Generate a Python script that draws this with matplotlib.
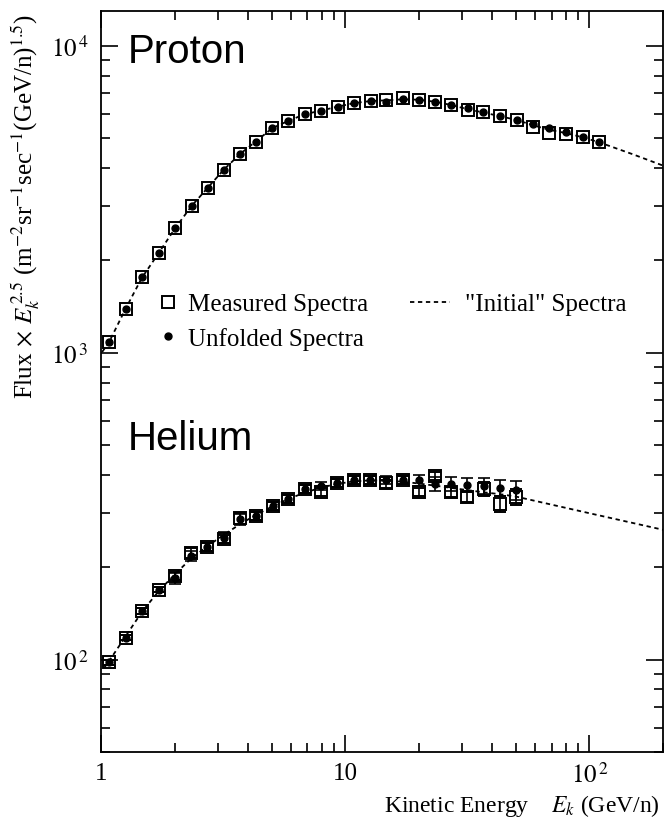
import matplotlib
matplotlib.use("Agg")
import matplotlib.pyplot as plt
from matplotlib.lines import Line2D
from matplotlib.ticker import FixedLocator, FixedFormatter, LogLocator, NullFormatter

plt.rcParams['font.family'] = ['Liberation Serif', 'DejaVu Serif']
plt.rcParams['mathtext.fontset'] = 'stix'

# proton
e_p = [1.08, 1.26, 1.47, 1.72, 2.01, 2.35, 2.73, 3.18, 3.72, 4.30, 5.03, 5.85, 6.82, 7.99, 9.34,
       10.9, 12.7, 14.7, 17.2, 20.0, 23.3, 27.2, 31.7, 36.8, 43.1, 50.3, 58.5, 68.5, 80.1, 93.7, 109]
p_unfolded = [1088, 1391, 1760, 2112, 2548, 3012, 3448, 3955, 4460, 4880, 5408, 5699, 5992, 6155, 6343,
              6520, 6600, 6557, 6735, 6685, 6585, 6424, 6266, 6082, 5902, 5754, 5568, 5395, 5258, 5042, 4857]
p_measured = [1088, 1391, 1760, 2112, 2548, 3012, 3448, 3955, 4460, 4880, 5408, 5699, 5992, 6155, 6343,
              6520, 6640, 6683, 6780, 6690, 6560, 6424, 6173, 6082, 5902, 5754, 5436, 5208, 5170, 5042, 4857]
e_p_init = [1.01, 1.08, 1.26, 1.47, 1.72, 2.01, 2.35, 2.73, 3.18, 3.72, 4.30, 5.03, 5.85, 6.82, 7.99, 9.34,
            10.9, 12.7, 14.7, 17.2, 20.0, 23.3, 27.2, 31.7, 36.8, 43.1, 50.3, 58.5, 68.5, 80.1, 93.7, 109, 150, 200]
p_init = [1005, 1085, 1390, 1755, 2110, 2545, 3010, 3445, 3950, 4455, 4880, 5400, 5700, 5990, 6160, 6345,
          6515, 6615, 6650, 6700, 6680, 6580, 6420, 6220, 6070, 5900, 5740, 5520, 5330, 5200, 5040, 4860, 4440, 4075]

# helium
e_he = [1.08, 1.26, 1.47, 1.72, 2.01, 2.33, 2.72, 3.18, 3.70, 4.30, 5.04, 5.85, 6.82, 7.99, 9.27,
        10.86, 12.6, 14.7, 17.2, 20.0, 23.3, 27.1, 31.5, 36.9, 43.1, 50.0]
he_measured = [98, 118, 144, 169, 187, 223, 233, 247, 289, 293, 317, 333, 359, 353, 377,
               384, 384, 375, 384, 353, 397, 352, 339, 360, 322, 339]
he_unfolded = [98, 118, 144, 169, 184, 218, 233, 250, 287, 293, 317, 333, 359, 368, 377,
               384, 384, 384, 384, 384, 374, 374, 371, 368, 363, 356]
he_meas_err = [0.02, 0.02, 0.02, 0.02, 0.03, 0.04, 0.03, 0.03, 0.04, 0.03, 0.03, 0.03, 0.03, 0.03, 0.03,
               0.03, 0.03, 0.03, 0.03, 0.03, 0.03, 0.04, 0.04, 0.05, 0.06, 0.06]
he_unf_err = [0.02, 0.02, 0.02, 0.02, 0.04, 0.04, 0.03, 0.04, 0.04, 0.03, 0.03, 0.03, 0.03, 0.03, 0.03,
              0.03, 0.03, 0.03, 0.03, 0.04, 0.05, 0.05, 0.05, 0.06, 0.06, 0.07]
e_he_init = [1.03, 1.08, 1.26, 1.47, 1.72, 2.01, 2.33, 2.72, 3.18, 3.70, 4.30, 5.04, 5.85, 6.82, 7.99, 9.27,
             10.86, 12.6, 14.7, 17.2, 20.0, 23.3, 27.1, 31.5, 36.9, 43.1, 50.0, 100, 200]
he_init = [94, 99, 119, 143, 167, 190, 213, 234, 255, 276, 296, 316, 334, 350, 364, 374,
           381, 384, 383, 380, 375, 369, 363, 357, 351, 346, 340, 300, 265]

x_ticks = [1, 10, 100]
x_ticklabels = ['1', '10', r'$10^{\,2}$']
y_ticks = [100, 1000, 10000]
y_ticklabels = [r'$10^{\,2}$', r'$10^{\,3}$', r'$10^{\,4}$']

fig = plt.figure(figsize=(6.65, 8.2), dpi=100)
ax = fig.add_axes([101 / 665, 67 / 820, 562 / 665, 741 / 820])
ax.set_xscale('log')
ax.set_yscale('log')
ax.set_xlim(1, 200)
ax.set_ylim(50, 13000)

dash = (0, (2.4, 2.0))
sq = dict(marker='s', ms=8, mfc='none', mec='black', mew=1.4, ls='none', color='black')
dot = dict(marker='o', ms=5, color='black', ls='none')

ax.plot(e_p_init, p_init, color='black', lw=1.3, ls=dash)
ax.plot(e_p, p_measured, **sq)
ax.plot(e_p, p_unfolded, **dot)

ax.plot(e_he_init, he_init, color='black', lw=1.3, ls=dash)
ax.errorbar(e_he, he_measured, yerr=[m * f for m, f in zip(he_measured, he_meas_err)],
            capsize=4, elinewidth=1.2, capthick=1.2, **sq)
ax.errorbar(e_he, he_unfolded, yerr=[m * f for m, f in zip(he_unfolded, he_unf_err)],
            capsize=4, elinewidth=1.2, capthick=1.2, **dot)

ax.xaxis.set_major_locator(FixedLocator(x_ticks))
ax.xaxis.set_major_formatter(FixedFormatter(x_ticklabels))
ax.yaxis.set_major_locator(FixedLocator(y_ticks))
ax.yaxis.set_major_formatter(FixedFormatter(y_ticklabels))
ax.xaxis.set_minor_locator(LogLocator(base=10, subs=range(2, 10)))
ax.yaxis.set_minor_locator(LogLocator(base=10, subs=range(2, 10)))
ax.xaxis.set_minor_formatter(NullFormatter())
ax.yaxis.set_minor_formatter(NullFormatter())
ax.tick_params(which='both', direction='in', top=True, right=True, width=1.2, labelsize=18)
ax.tick_params(which='major', length=12, pad=9)
ax.tick_params(axis='x', which='major', pad=7)
ax.tick_params(which='minor', length=6.5)
for s in ax.spines.values():
    s.set_linewidth(1.3)

ax.text(0.048, 0.931, 'Proton', transform=ax.transAxes, fontsize=29,
        family=['Liberation Sans', 'DejaVu Sans'], va='baseline')
ax.text(0.048, 0.409, 'Helium', transform=ax.transAxes, fontsize=29,
        family=['Liberation Sans', 'DejaVu Sans'], va='baseline')

h_meas = Line2D([], [], **sq)
h_unf = Line2D([], [], **dot)
h_init = Line2D([], [], color='black', lw=1.3, ls=dash)
leg1 = ax.legend([h_meas, h_unf], ['Measured Spectra', 'Unfolded Spectra'], loc='upper left',
                 bbox_to_anchor=((158 - 101) / 562, (753 - 294) / 741), frameon=False, fontsize=18,
                 handlelength=0.8, handletextpad=0.4, borderpad=0, borderaxespad=0, labelspacing=0.45)
ax.add_artist(leg1)
ax.legend([h_init], ['"Initial" Spectra'], loc='upper left',
          bbox_to_anchor=((410 - 101) / 562, (753 - 294) / 741), frameon=False, fontsize=18,
          handlelength=1.6, handletextpad=0.6, borderpad=0, borderaxespad=0)

fig.text(26 / 665, 1 - 14 / 820,
         r'Flux$\,\times\,E_k^{\,2.5}$ (m$^{-2}$sr$^{-1}$sec$^{-1}$(GeV/n)$^{1.5}$)',
         rotation=90, ha='center', va='top', fontsize=18)
fig.text(660 / 665, 1 - 806 / 820, r'Kinetic Energy    $E_k$ (GeV/n)', ha='right', va='center', fontsize=17)

fig.savefig('out.png', dpi=100)
